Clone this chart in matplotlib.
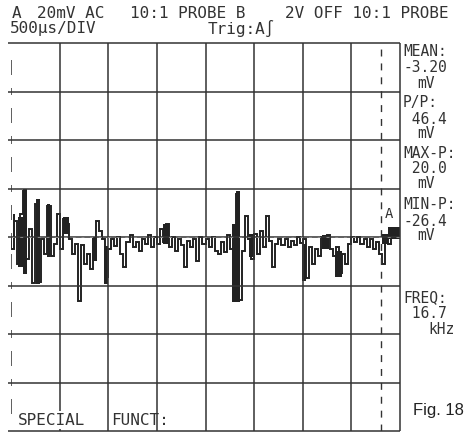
import numpy as np
import matplotlib.pyplot as plt

# screen settings: 20 mV/div, 8 x 8 divisions
mv_per_div = 20
n_div = 8

# trace, one value (mV) per 1/16 division
trace_mv = [
    -5, 6.6, -11, 9.5, 19, -9, 3.3, -19, 13.6, -18.5, -0.8, -7, 12.8, -8, -3, 9.5,
    -5, 7.4, 5.4, -0.8, -7, -3, -26.4, -3.3, -11, -7, -13, -0.8, 6.6, 2.5, -0.8, -16.5,
    -5, -0.8, -3.7, 0, -7, -12.4, -2, 0.8, -4, -2, -5.8, -0.8, -3, 0.8, -4, 0,
    -3, 3.3, -2, 5.4, -4, 0, -5.8, -0.8, -3.3, -12.4, -1.6, -4, -0.8, -10, 0, -3,
    -0.8, -4, 0, -5.8, -7, -2, -6, 0.8, -5, -25.5, 17.7, -26, -5.8, 8.6, -0.8, -9,
    1.2, -7, 2.5, -4, 8.6, -1.6, -12.4, -3, -0.8, -3.3, -0.8, -4, -1.6, -3.3, 0, -2.5,
    -0.8, -17, -4, -11, -5, -8, 0, -4, 0.8, -5, -8, -4, -15, -7, -11, -3,
    0, -2, 0, -3, -0.8, -4, -0.8, -5, -2, -7, -11, -0.8, -3, 2.5, 1.2, 3.3,
]

# dense (filled) parts of the trace: left edge (div), width (div), low / high (mV)
bar_x = [0.04, 0.14, 0.25, 0.51, 0.74, 1.07, 1.67, 1.91, 3.13, 4.55, 4.63, 4.90, 5.99, 6.40, 6.67, 7.63, 7.76]
bar_w = [0.05, 0.10, 0.07, 0.09, 0.07, 0.12, 0.09, 0.09, 0.12, 0.07, 0.07, 0.11, 0.07, 0.13, 0.13, 0.13, 0.25]
bar_lo = [-4.9, -12.4, -15.2, -19.4, -8.2, 1.2, -9.9, -19.4, -2.9, -26.8, -26.8, -8.2, -18.1, -4.9, -16.5, -2.9, -0.8]
bar_hi = [9.5, 8.2, 19.8, 15.7, 13.6, 8.2, 0, -3.7, 5.4, 5.4, 19.0, 1.2, -2.9, 0.8, -5.8, 1.2, 4.1]

cursor_x = 7.61

header_1 = [(12, 'A'), (37, '20mV AC'), (130, '10:1 PROBE B'), (285, '2V OFF 10:1 PROBE')]
header_2 = [(10, '500\u00b5s/DIV'), (208, 'Trig:A\u222b')]

readings = [
    ('MEAN:', '-3.20', 'mV', 52),
    ('P/P:', ' 46.4', 'mV', 103),
    ('MAX-P:', ' 20.0', 'mV', 153),
    ('MIN-P:', '-26.4', 'mV', 205),
    ('FREQ:', ' 16.7', 'kHz', 298),
]

ink = '#333333'
W, H = 476, 439

fig = plt.figure(figsize=(W / 100, H / 100), dpi=100)
fig.patch.set_facecolor('white')
ax = fig.add_axes([11 / W, 7 / H, 389 / W, 388 / H])
ax.set_xlim(0, n_div)
ax.set_ylim(-mv_per_div * n_div / 2, mv_per_div * n_div / 2)
ax.axis('off')

top = mv_per_div * n_div / 2
levels = np.arange(-top, top + 1, mv_per_div)

# grid
ax.hlines(levels, -0.06, n_div, color=ink, lw=1.1, clip_on=False)
ax.vlines(np.arange(1, n_div + 1), -top, top, color=ink, lw=1.1, clip_on=False)
ax.vlines(cursor_x, -top, top, color=ink, lw=1.0, linestyles=(0, (5, 5)))
ax.hlines(0, 0, n_div, color='#888888', lw=0.7, linestyles=(0, (3, 6)))

# left edge: short ticks only
ax.vlines(np.zeros(len(levels) - 2), levels[1:-1] - 1.6, levels[1:-1] + 1.6, color=ink, lw=1.1)
ax.vlines(np.zeros(len(levels) - 1), levels[:-1] + 7, levels[:-1] + 13, color=ink, lw=1.1)

# trace
edges = np.arange(len(trace_mv) + 1) * n_div / len(trace_mv)
ax.stairs(trace_mv, edges, color='#222222', lw=1.4)
ax.bar(bar_x, np.array(bar_hi) - np.array(bar_lo), bottom=bar_lo, width=bar_w,
       align='edge', color='#222222', lw=0)
ax.text(7.78, 10, 'A', fontsize=10, family='DejaVu Sans Mono', color=ink,
        ha='center', va='center')

mono = dict(family='DejaVu Sans Mono', color=ink, va='center')

for x, s in header_1:
    fig.text(x / W, 1 - 13 / H, s, fontsize=11.5, **mono)
for x, s in header_2:
    fig.text(x / W, 1 - 28 / H, s, fontsize=11.5, **mono)

for label, value, unit, y in readings:
    fig.text(403 / W, 1 - y / H, label, fontsize=10.5, **mono)
    fig.text(403 / W, 1 - (y + 16) / H, value, fontsize=10.5, **mono)
    ux = 441 if unit == 'kHz' else 426
    fig.text(ux / W, 1 - (y + 31) / H, unit, fontsize=10.5, ha='center', **mono)

box = dict(facecolor='white', edgecolor='none', pad=1)
fig.text(18 / W, 1 - 421 / H, 'SPECIAL', bbox=box, fontsize=11.5, **mono)
fig.text(111 / W, 1 - 421 / H, 'FUNCT:', fontsize=11.5, **mono)

fig.text(413 / W, 1 - 411 / H, 'Fig. 18', family='Liberation Sans', fontsize=12,
         color='#222222', va='center')

fig.savefig('out.png', dpi=100, facecolor='white')
